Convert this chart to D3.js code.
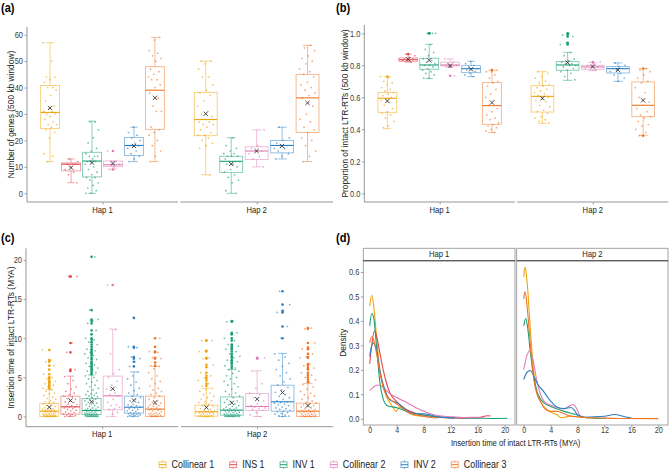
<!DOCTYPE html>
<html><head><meta charset="utf-8">
<script src="https://cdn.jsdelivr.net/npm/d3@7"></script>
<style>body{margin:0;background:#fff}svg{display:block}</style>
</head><body><svg id="c" width="669" height="469"></svg>
<script>
// ---------------- DATA ----------------
const categories = ["Collinear 1","INS 1","INV 1","Collinear 2","INV 2","Collinear 3"];
const colors = ["#F0A30A","#E4474F","#1A9E77","#E07BB4","#2A7FC4","#EF7526"];
const haps = ["Hap 1","Hap 2"];
const hapCategories = [categories, categories.filter(c => c !== "INS 1")];

// box stats rows: [lowWhisker, q1, median, q3, highWhisker, mean]
const genesBoxHap1 = [[12,24.5,30.6,40.8,57,32.3],[4,8.5,11,11.5,13,9.7],[0,6.2,12.2,15.5,27.3,11.6],[9.2,10.1,10.8,12.2,12.2,11.3],[12,14.3,18.1,21.1,25,17.9],[12,24.2,39,47.9,59,36.1]];
const genesBoxHap2 = [[7,21.8,27.9,38.2,50,30.1],[0,7.9,12.1,14,21,11.1],[10,12.8,16,17.6,24,16],[13,15.3,18.1,20,25,17.9],[12,23,36.1,45,56,34.2]];
const genesPtsHap1 = [
 [57,50,44,44,43,42,40,40,39,37,35,33,32,31,31,30,30,29,28,27,26,26,25,24,23,21,15,14,12],
 [13,12,11,11,11,10,9,8,7,4],
 [27,27,24,21,19,17,16,15,14,14,14,13,12,12,12,11,10,9,8,7,6,6,5,4,3,2,1,0,0],
 [16,12,11,11,10,9],
 [25,23,22,21,20,19,18,18,18,17,16,15,14,13,12],
 [59,58,54,53,52,51,50,47,46,45,44,43,43,41,40,38,36,33,31,31,25,24,23,22,20,18,16,14,12]];
const genesPtsHap2 = [
 [50,50,49,47,44,44,41,39,38,37,35,33,31,30,29,28,27,27,26,26,25,24,23,22,22,21,20,19,18,17,7],
 [21,18,17,16,15,15,14,14,14,13,12,12,12,11,11,10,9,8,7,6,5,4,1,0],
 [24,18,17,16,16,15,14,13,10],
 [25,21,20,19,18,18,17,17,16,15,14,13],
 [56,55,54,52,51,50,49,47,46,45,44,42,41,40,39,38,37,36,33,30,28,27,25,24,23,21,20,18,16,14,12]];

const propBoxHap1 = [[0.404,0.506,0.594,0.631,0.729,0.577],[0.82,0.825,0.835,0.846,0.869,0.838],[0.717,0.775,0.802,0.844,0.931,0.831],[0.796,0.796,0.802,0.819,0.84,0.798],[0.729,0.754,0.779,0.798,0.825,0.775],[0.379,0.431,0.548,0.692,0.769,0.567]];
const propBoxHap2 = [[0.4375,0.508,0.606,0.673,0.760,0.594],[0.706,0.769,0.802,0.823,0.881,0.817],[0.767,0.775,0.79,0.8,0.817,0.792],[0.70,0.752,0.779,0.792,0.815,0.771],[0.3625,0.479,0.55,0.696,0.779,0.581]];
const propPtsHap1 = [
 [0.73,0.72,0.70,0.69,0.68,0.66,0.65,0.64,0.63,0.62,0.61,0.60,0.59,0.58,0.57,0.55,0.53,0.51,0.50,0.49,0.47,0.45,0.42,0.41],
 [0.87,0.86,0.85,0.84,0.84,0.83,0.83,0.82],
 [1.0,1.0,1.0,0.93,0.90,0.88,0.86,0.84,0.83,0.82,0.81,0.80,0.80,0.79,0.78,0.77,0.76,0.75,0.74,0.72,0.72],
 [0.84,0.82,0.81,0.80,0.80,0.79,0.735],
 [0.825,0.81,0.80,0.79,0.78,0.78,0.77,0.76,0.75,0.74,0.73],
 [0.77,0.76,0.76,0.74,0.72,0.70,0.69,0.67,0.65,0.62,0.60,0.58,0.55,0.53,0.51,0.49,0.47,0.46,0.44,0.43,0.42,0.41,0.40,0.39,0.38]];
const propPtsHap2 = [
 [0.76,0.75,0.73,0.72,0.70,0.69,0.68,0.67,0.66,0.65,0.64,0.63,0.62,0.61,0.60,0.59,0.58,0.57,0.55,0.54,0.52,0.51,0.50,0.48,0.47,0.46,0.45,0.44],
 [1.0,0.99,0.98,0.94,0.93,0.88,0.86,0.84,0.83,0.82,0.81,0.81,0.80,0.80,0.79,0.78,0.77,0.76,0.75,0.73,0.71],
 [0.82,0.81,0.80,0.79,0.79,0.78,0.77],
 [0.815,0.80,0.79,0.78,0.78,0.77,0.76,0.75,0.74,0.72,0.70],
 [0.78,0.77,0.76,0.74,0.72,0.70,0.69,0.66,0.63,0.60,0.57,0.55,0.53,0.51,0.49,0.48,0.47,0.45,0.43,0.42,0.40,0.38,0.36]];

const timeBoxHap1 = [[0,0,0.68,1.66,3.45,1.19],[0,0.3,1.24,2.6,5.16,2.05],[0,0.26,0.77,2.3,5.3,1.88],[0,0.85,2.64,5.16,11.17,3.54],[0,0.43,1.19,2.6,5.71,2.05],[0,0,0.94,2.6,6.4,1.79]];
const timeBoxHap2 = [[0,0.04,0.6,1.45,3.6,1.15],[0,0.17,0.81,2.5,6.0,1.75],[0,0.77,1.28,2.94,5.84,2.22],[0,0.68,1.88,4.0,8.06,3.07],[0,0,0.68,1.7,4.2,1.4]];
const timePtsHap1 = [
 [8.5,7.2,7.0,6.5,6.0,5.4,5.0,4.8,4.5,4.4,4.2,4.0,3.8,3.6,3.4,3.2,3.0,2.9,2.7,2.5,2.3,2.2,2.0,1.9,1.8,1.7,1.6,1.5,1.4,1.3,1.2,1.1,1.0,0.95,0.9,0.85,0.8,0.75,0.7,0.68,0.65,0.6,0.55,0.5,0.45,0.4,0.35,0.3,0.28,0.25,0.2,0.18,0.15,0.12,0.1,0.08,0.06,0.05,0.04,0.03,0.02,0.01,0,0,0],
 [17.9,17.9,9.4,8.2,6.0,5.8,5.1,4.6,4.2,3.8,3.5,3.2,3.0,2.8,2.6,2.5,2.3,2.2,2.0,1.9,1.8,1.6,1.5,1.4,1.3,1.2,1.2,1.1,1.0,0.9,0.8,0.7,0.6,0.5,0.4,0.3,0.25,0.2,0.1,0.05,0],
 [20.4,13.6,12.4,12.2,11.9,11.0,10.5,10.0,9.8,9.5,9.2,8.9,8.6,8.4,8.2,8.0,7.8,7.5,7.3,7.0,6.8,6.6,6.4,6.2,6.0,5.8,5.6,5.4,5.2,5.0,4.8,4.6,4.4,4.2,4.0,3.8,3.6,3.4,3.2,3.0,2.9,2.8,2.7,2.6,2.5,2.4,2.3,2.2,2.1,2.0,1.9,1.8,1.7,1.6,1.5,1.4,1.3,1.2,1.1,1.0,0.95,0.9,0.85,0.8,0.75,0.7,0.65,0.6,0.55,0.5,0.45,0.4,0.38,0.35,0.32,0.3,0.28,0.25,0.22,0.2,0.18,0.15,0.12,0.1,0.08,0.06,0.05,0.04,0.03,0.02,0.01,0,0,0,0],
 [16.8,11.1,8.0,6.0,5.5,5.0,4.5,4.0,3.5,3.0,2.8,2.6,2.2,1.8,1.5,1.4,1.2,1.0,0.9,0.5,0.3,0],
 [12.6,8.9,8.8,7.6,7.4,7.0,6.4,5.7,5.2,4.8,4.4,4.0,3.6,3.3,3.0,2.8,2.6,2.4,2.2,2.0,1.8,1.6,1.5,1.4,1.3,1.2,1.1,1.0,0.9,0.8,0.7,0.6,0.5,0.45,0.4,0.35,0.3,0.25,0.2,0.15,0.1,0.05,0.02,0],
 [10.0,8.9,8.3,8.2,7.5,7.4,6.9,6.5,6.4,6.1,5.6,5.2,4.8,4.5,4.2,3.9,3.6,3.4,3.2,3.0,2.8,2.6,2.4,2.2,2.0,1.8,1.7,1.6,1.5,1.4,1.3,1.2,1.1,1.0,0.95,0.9,0.85,0.8,0.7,0.6,0.5,0.45,0.4,0.35,0.3,0.25,0.2,0.15,0.1,0.08,0.05,0.03,0.01,0,0]];
const timePtsHap2 = [
 [9.7,9.7,8.4,8.3,7.5,7.4,6.6,6.3,5.6,5.2,4.9,4.6,4.2,3.9,3.6,3.4,3.2,3.0,2.8,2.6,2.4,2.2,2.0,1.9,1.8,1.6,1.4,1.3,1.2,1.0,0.9,0.8,0.7,0.65,0.6,0.55,0.5,0.45,0.4,0.35,0.3,0.25,0.2,0.15,0.1,0.08,0.05,0.03,0.01,0,0],
 [12.2,12.1,10.7,10.5,10.0,9.7,9.2,9.0,8.8,8.6,8.3,8.0,7.7,7.5,7.2,7.0,6.8,6.5,6.2,6.0,5.8,5.5,5.2,5.0,4.8,4.5,4.2,4.0,3.8,3.5,3.2,3.0,2.8,2.6,2.4,2.2,2.0,1.9,1.8,1.6,1.5,1.4,1.3,1.2,1.1,1.0,0.95,0.9,0.85,0.8,0.75,0.7,0.65,0.6,0.55,0.5,0.45,0.4,0.35,0.3,0.28,0.25,0.22,0.2,0.18,0.15,0.12,0.1,0.08,0.06,0.05,0.04,0.03,0.02,0.01,0,0,0],
 [7.5,7.4,5.8,4.2,3.6,3.0,2.8,2.4,2.0,1.6,1.4,1.3,1.2,1.1,1.0,0.9,0.8,0.5,0.2,0],
 [16.0,14.3,13.5,13.3,11.5,10.0,8.0,7.6,7.2,6.8,6.4,6.0,5.6,5.2,4.8,4.4,4.0,3.7,3.4,3.1,2.8,2.6,2.4,2.2,2.0,1.9,1.8,1.7,1.6,1.5,1.4,1.2,1.1,1.0,0.9,0.8,0.7,0.6,0.5,0.4,0.3,0.2,0.1,0.05,0],
 [11.3,11.2,9.4,8.8,8.6,8.0,7.6,7.5,6.7,6.5,6.2,6.0,5.6,5.3,5.0,4.7,4.4,4.1,3.8,3.5,3.2,3.0,2.8,2.6,2.4,2.2,2.0,1.8,1.7,1.6,1.5,1.4,1.3,1.2,1.1,1.0,0.9,0.8,0.75,0.7,0.65,0.6,0.55,0.5,0.45,0.4,0.35,0.3,0.25,0.2,0.15,0.1,0.08,0.05,0.03,0.01,0,0]];

// density curves [insertion time, density]
const densHap1 = [
 [[0,0.46],[0.3,0.505],[0.6,0.46],[1,0.34],[1.5,0.2],[2,0.13],[2.5,0.09],[3,0.065],[3.5,0.045],[3.9,0.03],[4.4,0.048],[5,0.04],[6,0.02],[7,0.012],[8,0.01],[8.6,0.008]],
 [[0,0.225],[0.3,0.3],[0.7,0.36],[1,0.34],[1.5,0.27],[2,0.2],[2.5,0.145],[3,0.105],[4,0.07],[5,0.045],[6,0.03],[7,0.02],[8,0.015],[9,0.01],[10,0.006],[12,0.003],[14,0.002],[16,0.004],[17.5,0.012],[17.9,0.011]],
 [[0,0.38],[0.3,0.43],[0.6,0.41],[1,0.3],[1.5,0.15],[2,0.08],[2.5,0.055],[3,0.05],[4,0.045],[5,0.035],[6,0.025],[7,0.02],[8,0.015],[10,0.008],[12,0.005],[14,0.003],[16,0.002],[18,0.001],[20.4,0.002]],
 [[0,0.115],[0.5,0.128],[1,0.137],[1.5,0.137],[2,0.128],[3,0.102],[4,0.087],[5,0.073],[6,0.058],[7,0.043],[8,0.031],[9,0.02],[10,0.013],[12,0.008],[14,0.005],[16,0.006],[16.8,0.005]],
 [[0,0.255],[0.3,0.3],[0.6,0.31],[1,0.28],[1.5,0.2],[2,0.14],[2.5,0.1],[3,0.077],[3.5,0.07],[4,0.066],[5,0.045],[6,0.025],[7,0.02],[8,0.02],[9,0.015],[10,0.008],[12,0.003],[12.6,0.002]],
 [[0,0.31],[0.3,0.335],[0.6,0.32],[1,0.27],[1.5,0.19],[2,0.13],[2.5,0.095],[3,0.08],[4,0.06],[5,0.04],[6,0.022],[7,0.015],[8,0.01],[9,0.005],[10,0.003]]];
const densHap2 = [
 [[0,0.58],[0.2,0.62],[0.5,0.56],[1,0.36],[1.5,0.19],[2,0.1],[2.5,0.07],[3,0.05],[4,0.027],[5,0.015],[5.5,0.005],[6,0.006],[7,0.011],[8,0.008],[9,0.005],[9.7,0.004]],
 [[0,0.38],[0.3,0.41],[0.6,0.37],[1,0.27],[1.5,0.17],[2,0.11],[2.5,0.08],[3,0.065],[4,0.05],[5,0.04],[6,0.03],[7,0.022],[8,0.015],[9,0.006],[10,0.003],[12.2,0.001]],
 [[0,0.2],[0.5,0.26],[0.9,0.278],[1.3,0.25],[2,0.15],[2.5,0.1],[3,0.072],[3.5,0.06],[4,0.056],[5,0.045],[6,0.04],[6.8,0.052],[7.3,0.058],[7.8,0.045],[8.3,0.015],[8.8,0.005]],
 [[0,0.16],[0.5,0.19],[1,0.197],[1.5,0.175],[2,0.145],[3,0.11],[4,0.072],[5,0.047],[6,0.042],[7,0.046],[7.5,0.036],[8,0.015],[9,0.006],[10,0.007],[12,0.01],[13.5,0.017],[15,0.008],[16,0.003]],
 [[0,0.49],[0.2,0.52],[0.5,0.46],[1,0.3],[1.5,0.16],[2,0.1],[2.5,0.07],[3,0.045],[4,0.03],[5,0.03],[6,0.02],[7,0.01],[8,0.008],[10,0.004],[11.3,0.003],[14,0.001],[20,0.0005]]];

const densTicksX = [0,4,8,12,16,20];
const densTicksY = [0,0.1,0.2,0.3,0.4,0.5,0.6];

// ---------------- DRAWING ----------------
const SX = 0.85;
const FONT = "'Liberation Sans', Arial, sans-serif";
const svg = d3.select("#c");
const AXC = "#8a8a8a", TXC = "#3c3c3c";
const TICKFS = 8.8;

function txt(g, x, y, s, o = {}) {
  return g.append("text")
    .attr("transform", o.rot ? `translate(${x},${y}) rotate(-90)` : `translate(${x},${y}) scale(${SX},1)`)
    .attr("text-anchor", o.anchor || "start")
    .attr("font-size", o.size || 8.5)
    .attr("fill", o.fill || "#1a1a1a")
    .attr("font-weight", o.bold ? "bold" : null)
    .attr("font-family", FONT)
    .text(s);
}

function styleAxis(ax) {
  ax.select(".domain").remove();
  ax.selectAll(".tick line").attr("stroke", AXC).attr("stroke-width", 0.8);
  ax.selectAll(".tick text").attr("fill", TXC).attr("font-size", TICKFS).attr("font-family", FONT);
}

function frac(v) { return v - Math.floor(v); }

function boxPanel(p) {
  const g = svg.append("g");
  const y = d3.scaleLinear().domain(p.yDom).range(p.yRng);
  g.append("line").attr("x1", p.axisX).attr("x2", p.axisX).attr("y1", p.top).attr("y2", p.bottom)
    .attr("stroke", AXC).attr("stroke-width", 0.9);
  const ax = g.append("g").attr("transform", `translate(${p.axisX},0)`)
    .call(d3.axisLeft(y).tickValues(p.ticks).tickSize(2.5).tickPadding(1.5).tickFormat(p.fmt));
  styleAxis(ax);
  ax.selectAll(".tick text").each(function () {
    const t = d3.select(this);
    t.attr("x", +t.attr("x") / SX).attr("transform", `scale(${SX},1)`);
  });
  txt(g, p.titleX, (p.top + p.bottom) / 2, p.title, { rot: true, anchor: "middle", size: 8.4 });
  txt(g, p.labelX, p.labelY, p.label, { size: 13, bold: true, fill: "#000" });

  p.facets.forEach((f, fi) => {
    const cats = hapCategories[fi];
    g.append("line").attr("x1", f[0]).attr("x2", f[1]).attr("y1", p.bottom).attr("y2", p.bottom)
      .attr("stroke", AXC).attr("stroke-width", 0.9);
    const cx = (f[0] + f[1]) / 2, W = (f[1] - f[0]) / 1.2;
    const xb = d3.scaleBand().domain(cats).range([cx - W / 2, cx + W / 2]).paddingInner(0.1).paddingOuter(0.05);
    const hx = d3.scalePoint().domain([haps[fi]]).range([f[0], f[1]]).padding(0.5);
    const hax = g.append("g").attr("transform", `translate(0,${p.bottom})`)
      .call(d3.axisBottom(hx).tickSize(2.5).tickPadding(2));
    styleAxis(hax);
    hax.selectAll(".tick text").remove();
    txt(g, hx(haps[fi]), p.hapY, haps[fi], { anchor: "middle", size: 9 });

    const stats = p.stats[fi], pts = p.pts[fi];
    cats.forEach((c, i) => {
      const [lo, q1, md, q3, hi, mn] = stats[i];
      const col = colors[categories.indexOf(c)];
      const bw = xb.bandwidth(), mx = xb(c) + bw / 2, cap = bw * 0.2;
      const bg = g.append("g");
      bg.append("line").attr("x1", mx).attr("x2", mx).attr("y1", y(q3)).attr("y2", y(hi));
      bg.append("line").attr("x1", mx).attr("x2", mx).attr("y1", y(q1)).attr("y2", y(lo));
      bg.append("line").attr("x1", mx - cap).attr("x2", mx + cap).attr("y1", y(hi)).attr("y2", y(hi));
      bg.append("line").attr("x1", mx - cap).attr("x2", mx + cap).attr("y1", y(lo)).attr("y2", y(lo));
      bg.append("rect").attr("x", mx - bw / 2).attr("width", bw).attr("y", y(q3)).attr("height", Math.max(0.5, y(q1) - y(q3)))
        .attr("fill", "none");
      bg.selectAll("line,rect").attr("stroke", col).attr("stroke-opacity", 0.55).attr("stroke-width", 0.9);
      g.append("g").selectAll("circle").data(pts[i]).join("circle")
        .attr("cx", (d, k) => mx + (frac(k * 0.618034 + i * 0.37 + fi * 0.21) - 0.5) * bw * 0.72)
        .attr("cy", d => y(d)).attr("r", 0.85).attr("fill", col).attr("fill-opacity", 0.65);
      g.append("g").selectAll("circle").data(pts[i].filter(v => v > hi + 1e-9 || v < lo - 1e-9)).join("circle")
        .attr("cx", mx).attr("cy", d => y(d)).attr("r", 1.3).attr("fill", col);
      g.append("line").attr("x1", mx - bw / 2).attr("x2", mx + bw / 2).attr("y1", y(md)).attr("y2", y(md))
        .attr("stroke", col).attr("stroke-width", 1.1);
      const s = 2.1, ym = y(mn);
      g.append("path").attr("d", `M${mx - s},${ym - s}L${mx + s},${ym + s}M${mx - s},${ym + s}L${mx + s},${ym - s}`)
        .attr("stroke", "#333").attr("stroke-width", 0.9);
    });
  });
}

boxPanel({
  yDom: [0, 60], yRng: [193.3, 34.7], top: 27, bottom: 202, axisX: 27,
  ticks: [0, 10, 20, 30, 40, 50, 60], fmt: d3.format("d"),
  title: "Number of genes (500 kb window)", titleX: 14,
  label: "(a)", labelX: 1, labelY: 12,
  facets: [[27, 178], [180.3, 333]], hapY: 213,
  stats: [genesBoxHap1, genesBoxHap2], pts: [genesPtsHap1, genesPtsHap2]
});
boxPanel({
  yDom: [0, 1], yRng: [193.3, 33.3], top: 25, bottom: 202, axisX: 364.3,
  ticks: [0, 0.2, 0.4, 0.6, 0.8, 1.0], fmt: d3.format(".1f"),
  title: "Proportion of intact LTR-RTs (500 kb window)", titleX: 348,
  label: "(b)", labelX: 336, labelY: 12,
  facets: [[364.3, 515], [517.3, 668.3]], hapY: 213,
  stats: [propBoxHap1, propBoxHap2], pts: [propPtsHap1, propPtsHap2]
});
boxPanel({
  yDom: [0, 20], yRng: [416.5, 260], top: 248.3, bottom: 426.7, axisX: 26,
  ticks: [0, 5, 10, 15, 20], fmt: d3.format("d"),
  title: "Insertion time of intact LTR-RTs (MYA)", titleX: 14,
  label: "(c)", labelX: 1, labelY: 242,
  facets: [[26, 178.3], [181, 333.3]], hapY: 436.5,
  stats: [timeBoxHap1, timeBoxHap2], pts: [timePtsHap1, timePtsHap2]
});

// ---- panel (d) density ----
(function () {
  const g = svg.append("g");
  const top = 248.3, stripB = 260.7, bottom = 425;
  const facets = [[363.3, 515], [516.7, 668]];
  const xr = [[369.7, 504.7], [523.7, 658.3]];
  const y = d3.scaleLinear().domain([0, 0.6]).range([418.7, 272]);
  txt(g, 336, 242, "(d)", { size: 13, bold: true, fill: "#000" });
  const yax = g.append("g").attr("transform", `translate(${facets[0][0]},0)`)
    .call(d3.axisLeft(y).tickValues(densTicksY).tickSize(2.5).tickPadding(1.5).tickFormat(d3.format(".1f")));
  styleAxis(yax);
  yax.selectAll(".tick text").each(function () {
    const t = d3.select(this); t.attr("x", +t.attr("x") / SX).attr("transform", `scale(${SX},1)`);
  });
  txt(g, 346, (stripB + bottom) / 2, "Density", { rot: true, anchor: "middle", size: 8.4 });
  [densHap1, densHap2].forEach((dens, fi) => {
    const f = facets[fi];
    const x = d3.scaleLinear().domain([0, 20]).range(xr[fi]);
    const clipId = "clip" + fi;
    g.append("clipPath").attr("id", clipId).append("rect")
      .attr("x", f[0]).attr("y", stripB).attr("width", f[1] - f[0]).attr("height", bottom - stripB);
    const cats = hapCategories[fi];
    const line = d3.line().x(d => x(d[0])).y(d => y(d[1])).curve(d3.curveMonotoneX);
    g.append("g").attr("clip-path", `url(#${clipId})`).selectAll("path").data(dens).join("path")
      .attr("d", line).attr("fill", "none").attr("stroke-width", 1.1)
      .attr("stroke", (d, i) => colors[categories.indexOf(cats[i])]);
    g.append("rect").attr("x", f[0]).attr("y", stripB).attr("width", f[1] - f[0]).attr("height", bottom - stripB)
      .attr("fill", "none").attr("stroke", "#9a9a9a").attr("stroke-width", 0.9);
    g.append("rect").attr("x", f[0]).attr("y", top).attr("width", f[1] - f[0]).attr("height", stripB - top)
      .attr("fill", "#fff").attr("stroke", "#9a9a9a").attr("stroke-width", 0.9);
    g.append("line").attr("x1", f[0]).attr("x2", f[1]).attr("y1", stripB).attr("y2", stripB)
      .attr("stroke", "#444").attr("stroke-width", 1.1);
    txt(g, (f[0] + f[1]) / 2, top + 8.8, haps[fi], { anchor: "middle", size: 9, fill: "#1a1a1a" });
    const xax = g.append("g").attr("transform", `translate(0,${bottom})`)
      .call(d3.axisBottom(x).tickValues(densTicksX).tickSize(2.5).tickPadding(0));
    styleAxis(xax);
    xax.selectAll(".tick text").attr("transform", `scale(${SX},1)`).attr("x", 0).attr("text-anchor", "middle")
      .attr("font-size", 8.4);
  });
  txt(g, (facets[0][0] + facets[1][1]) / 2, 445.5, "Insertion time of intact LTR-RTs (MYA)", { anchor: "middle", size: 9 });
})();

// ---- legend ----
(function () {
  const g = svg.append("g");
  const yc = 464.7;
  const tmp = categories.map((c, i) => {
    const t = txt(g, 0, yc + 3.6, c, { size: 10.5, fill: "#1a1a1a" });
    const w = t.node().getComputedTextLength() * SX;
    return { t, w, c, i };
  });
  const keyW = 8, gapKT = 5, gapItem = 15;
  const total = d3.sum(tmp, d => keyW + gapKT + d.w) + gapItem * (tmp.length - 1);
  let x = 332.5 - total / 2;
  tmp.forEach(d => {
    const col = colors[d.i];
    const kx = x + keyW / 2;
    const k = g.append("g");
    k.append("line").attr("x1", kx).attr("x2", kx).attr("y1", yc - 4.5).attr("y2", yc + 4.5);
    k.append("rect").attr("x", x + 0.5).attr("y", yc - 2.8).attr("width", keyW - 1).attr("height", 5.6).attr("fill", "#fff");
    k.selectAll("line,rect").attr("stroke", col).attr("stroke-opacity", 0.7).attr("stroke-width", 0.9);
    k.append("line").attr("x1", x + 0.5).attr("x2", x + keyW - 0.5).attr("y1", yc).attr("y2", yc).attr("stroke", col).attr("stroke-width", 1);
    d.t.attr("transform", `translate(${x + keyW + gapKT},${yc + 3.6}) scale(${SX},1)`);
    x += keyW + gapKT + d.w + gapItem;
  });
})();
</script>
</body></html>
